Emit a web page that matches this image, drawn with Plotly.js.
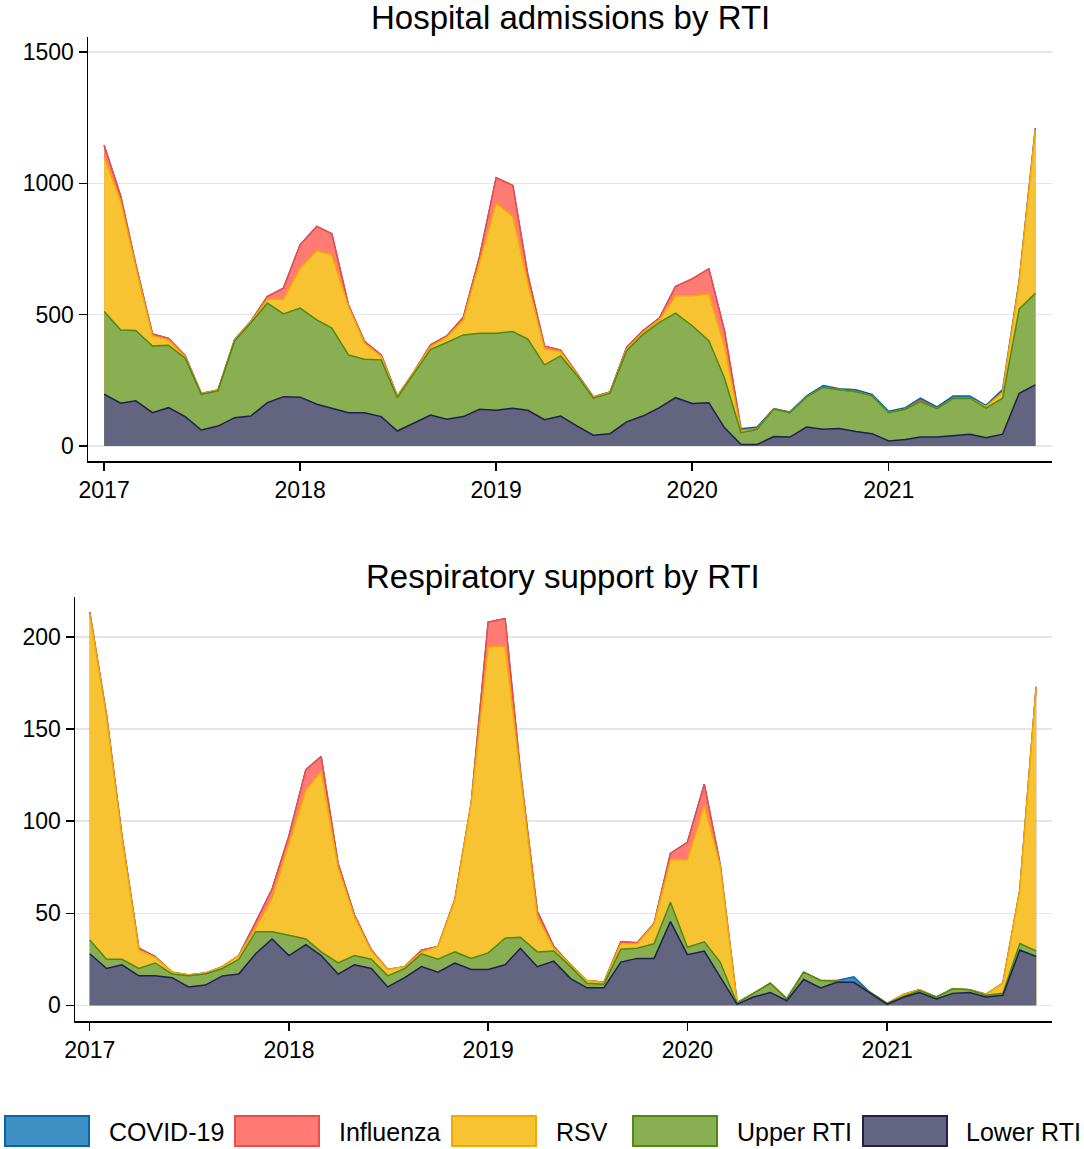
<!DOCTYPE html>
<html>
<head>
<meta charset="utf-8">
<script src="https://cdn.plot.ly/plotly-3.0.1.min.js"></script>
<style>
  html, body { margin: 0; padding: 0; background: #fff; }
  #chart { width: 1084px; height: 1149px; }
</style>
</head>
<body>
<div id="chart"></div>
<script>
// monthly points, Jan 2017 .. Oct 2021
const months = [];
for (let y = 2017; y <= 2021; y++) {
    for (let m = 1; m <= 12; m++) {
        if (y === 2021 && m > 10) break;
        months.push(y + "-" + String(m).padStart(2, "0") + "-01");
    }
}

const yearTicks = ["2017-01-01", "2018-01-01", "2019-01-01", "2020-01-01", "2021-01-01"];
const yearLabels = ["2017", "2018", "2019", "2020", "2021"];

// Hospital admissions by RTI
const lowerH = [197,163,172,127,146,112,61,76,108,114,165,188,
                186,159,144,127,127,112,57,86,118,102,112,140,
                136,144,136,100,114,76,41,47,92,114,146,184,
                162,165,70,6,6,36,34,72,64,67,55,47,
                19,25,34,34,39,45,32,45,201,233];
const upperH = [315,279,268,254,238,222,136,134,292,354,379,315,
                339,321,305,220,203,216,127,191,250,292,311,289,
                293,292,271,209,229,191,141,154,271,310,325,322,
                296,236,190,45,58,105,93,115,159,147,152,144,
                108,115,135,108,142,137,112,137,321,348];
const rsvH = [588,488,240,38,20,6,2,2,3,4,15,56,
              152,263,279,184,61,13,4,4,11,20,57,271,
              496,438,213,60,17,4,3,3,6,8,9,66,
              114,178,120,6,1,0,0,0,0,0,0,0,
              0,0,0,0,0,0,6,22,103,624];
const fluH = [45,20,10,8,6,4,1,1,2,2,10,42,
              89,93,80,6,7,6,2,2,6,5,10,20,
              96,118,30,11,5,2,2,2,6,7,7,35,
              64,95,60,1,1,0,0,0,0,0,0,0,
              0,0,5,0,0,0,0,0,0,0];
const covidH = [0,0,0,0,0,0,0,0,0,0,0,0,
                0,0,0,0,0,0,0,0,0,0,0,0,
                0,0,0,0,0,0,0,0,0,0,0,0,
                0,0,0,8,6,2,3,4,7,4,7,5,
                5,6,8,7,9,8,5,11,7,5];

// Respiratory support by RTI
const lowerR = [28,20,22,16,16,15,10,11,16,17,28,36,
                27,33,27,17,22,20,10,15,21,18,23,19.5,
                19.5,22,31,21,24,14.5,9.5,9.5,23.5,25.5,25.5,45.5,
                27.5,29.5,15.5,0.5,4.5,7,2.5,14,9.5,12.5,12.5,6.5,
                0.5,4.5,7,3.5,6.5,7,4.5,5.5,30,26.5];
const upperR = [7.5,5,3,4,7,2,6,6,4,8,12,4,
                11,3,2,6,5,5,6,5,7,7,6,6,
                9,14.5,6,8,5.5,6.5,2.5,2,7,5.5,8,10.5,
                4,5,8,0.5,2,5,1,4,4,0.5,0,0.5,
                0.5,0.5,1,1,2.5,1.5,1,1,3.5,3];
const rsvR = [177.5,131,66,10,3,1,0.5,0.5,1,2,2,18,
              50,81,98,52,21,4.5,3.5,1,1,7,28,84.5,
              166,158.5,88,19,1.5,1,1.5,1,3,2.5,10.5,23,
              47.5,74,52.5,0.3,0,0,0,0,0,0,0,0,
              0,1,0.5,0,0,0,0.5,5.5,29,143.5];
const fluR = [0.5,1,1,1,0.5,0,0,0,0,0,3,5,
              4,11,8,2,1,0.5,0,0,1,0,0.5,0,
              13.5,15,2,3,1,0,0,0,1,0.5,0.5,3.5,
              9.5,11.5,0.5,0,0,0,0,0,0,0,0,0,
              0,0,0,0,0,0,0,0,0,0];
const covidR = [0,0,0,0,0,0,0,0,0,0,0,0,
                0,0,0,0,0,0,0,0,0,0,0,0,
                0,0,0,0,0,0,0,0,0,0,0,0,
                0,0,0,0.3,0,0,0,0,0,0.5,3,0,
                0,0,0,0,0,0,0,0,0,0];

const series = [
    { name: "Lower RTI", fill: "#626480", line: "#1c2150" },
    { name: "Upper RTI", fill: "#8aae52", line: "#4f8a10" },
    { name: "RSV",       fill: "#f8c332", line: "#f2a900" },
    { name: "Influenza", fill: "#ff7b74", line: "#f04a4a" },
    { name: "COVID-19",  fill: "#3d8fc4", line: "#0a64a8" }
];

const hospData = [lowerH, upperH, rsvH, fluH, covidH];
const respData = [lowerR, upperR, rsvR, fluR, covidR];

const W = 1084, H = 1149;
const px = x => x / W;
const py = y => 1 - y / H;

// Stacked like Stata: running totals, drawn from the top layer down,
// so each lower layer's outline sits over the one above it.
function stackTraces(data, xa, ya) {
    const totals = [];
    let run = data[0].map(() => 0);
    data.forEach(vals => {
        run = run.map((r, j) => r + vals[j]);
        totals.push(run);
    });
    const out = [];
    for (let i = data.length - 1; i >= 0; i--) {
        out.push({
            x: months,
            y: totals[i],
            xaxis: xa,
            yaxis: ya,
            type: "scatter",
            mode: "lines",
            fill: "tozeroy",
            name: series[i].name,
            line: { color: series[i].line, width: 1.5 },
            fillcolor: series[i].fill,
            hoverinfo: "skip"
        });
    }
    return out;
}

const traces = [
    ...stackTraces(hospData, "x", "y"),
    ...stackTraces(respData, "x2", "y2")
];

const font = "Liberation Sans, Arial, sans-serif";
const tickFont = { family: font, size: 23, color: "#000" };

const xCommon = {
    type: "date",
    tickvals: yearTicks,
    ticktext: yearLabels,
    ticks: "outside",
    ticklen: 8,
    tickwidth: 1.5,
    tickcolor: "#000",
    showline: true,
    linecolor: "#000",
    linewidth: 1.5,
    showgrid: false,
    zeroline: false,
    tickfont: tickFont
};

const yCommon = {
    ticks: "outside",
    ticklen: 8,
    tickwidth: 1.5,
    tickcolor: "#000",
    showline: true,
    linecolor: "#000",
    linewidth: 1.5,
    showgrid: true,
    gridcolor: "#e6e6e6",
    gridwidth: 1.5,
    zeroline: false,
    tickfont: tickFont
};

// legend drawn by hand: large framed swatches, as in the source
const legendItems = [
    { idx: 4, box: 5,   label: 107 },
    { idx: 3, box: 235, label: 337 },
    { idx: 2, box: 452, label: 554 },
    { idx: 1, box: 633, label: 735 },
    { idx: 0, box: 863, label: 964 }
];

const shapes = legendItems.map(it => ({
    type: "rect",
    xref: "paper", yref: "paper",
    x0: px(it.box), x1: px(it.box + 84),
    y0: py(1146), y1: py(1116),
    fillcolor: series[it.idx].fill,
    line: { color: series[it.idx].line, width: 2 }
}));

const annotations = [
    {
        text: "Hospital admissions by RTI",
        xref: "paper", yref: "paper",
        x: px(570), y: py(17),
        xanchor: "center", yanchor: "middle",
        showarrow: false,
        font: { family: font, size: 33, color: "#000" }
    },
    {
        text: "Respiratory support by RTI",
        xref: "paper", yref: "paper",
        x: px(563), y: py(576),
        xanchor: "center", yanchor: "middle",
        showarrow: false,
        font: { family: font, size: 33, color: "#000" }
    },
    ...legendItems.map(it => ({
        text: series[it.idx].name,
        xref: "paper", yref: "paper",
        x: px(it.label), y: py(1132),
        xanchor: "left", yanchor: "middle",
        showarrow: false,
        font: { family: font, size: 25, color: "#000" }
    }))
];

const layout = {
    width: W,
    height: H,
    margin: { l: 0, r: 0, t: 0, b: 0 },
    paper_bgcolor: "#fff",
    plot_bgcolor: "#fff",
    showlegend: false,
    font: { family: font, color: "#000" },
    xaxis: Object.assign({}, xCommon, {
        domain: [px(88), px(1052)],
        anchor: "y",
        range: ["2016-12-02", "2021-11-01"]
    }),
    yaxis: Object.assign({}, yCommon, {
        domain: [py(461), py(37)],
        anchor: "x",
        range: [-57, 1557],
        tickvals: [0, 500, 1000, 1500]
    }),
    xaxis2: Object.assign({}, xCommon, {
        domain: [px(75), px(1052)],
        anchor: "y2",
        range: ["2016-12-05", "2021-10-30"]
    }),
    yaxis2: Object.assign({}, yCommon, {
        domain: [py(1021), py(597)],
        anchor: "x2",
        range: [-8.5, 221.7],
        tickvals: [0, 50, 100, 150, 200]
    }),
    shapes: shapes,
    annotations: annotations
};

Plotly.newPlot("chart", traces, layout, { displayModeBar: false, staticPlot: true });
</script>
</body>
</html>
